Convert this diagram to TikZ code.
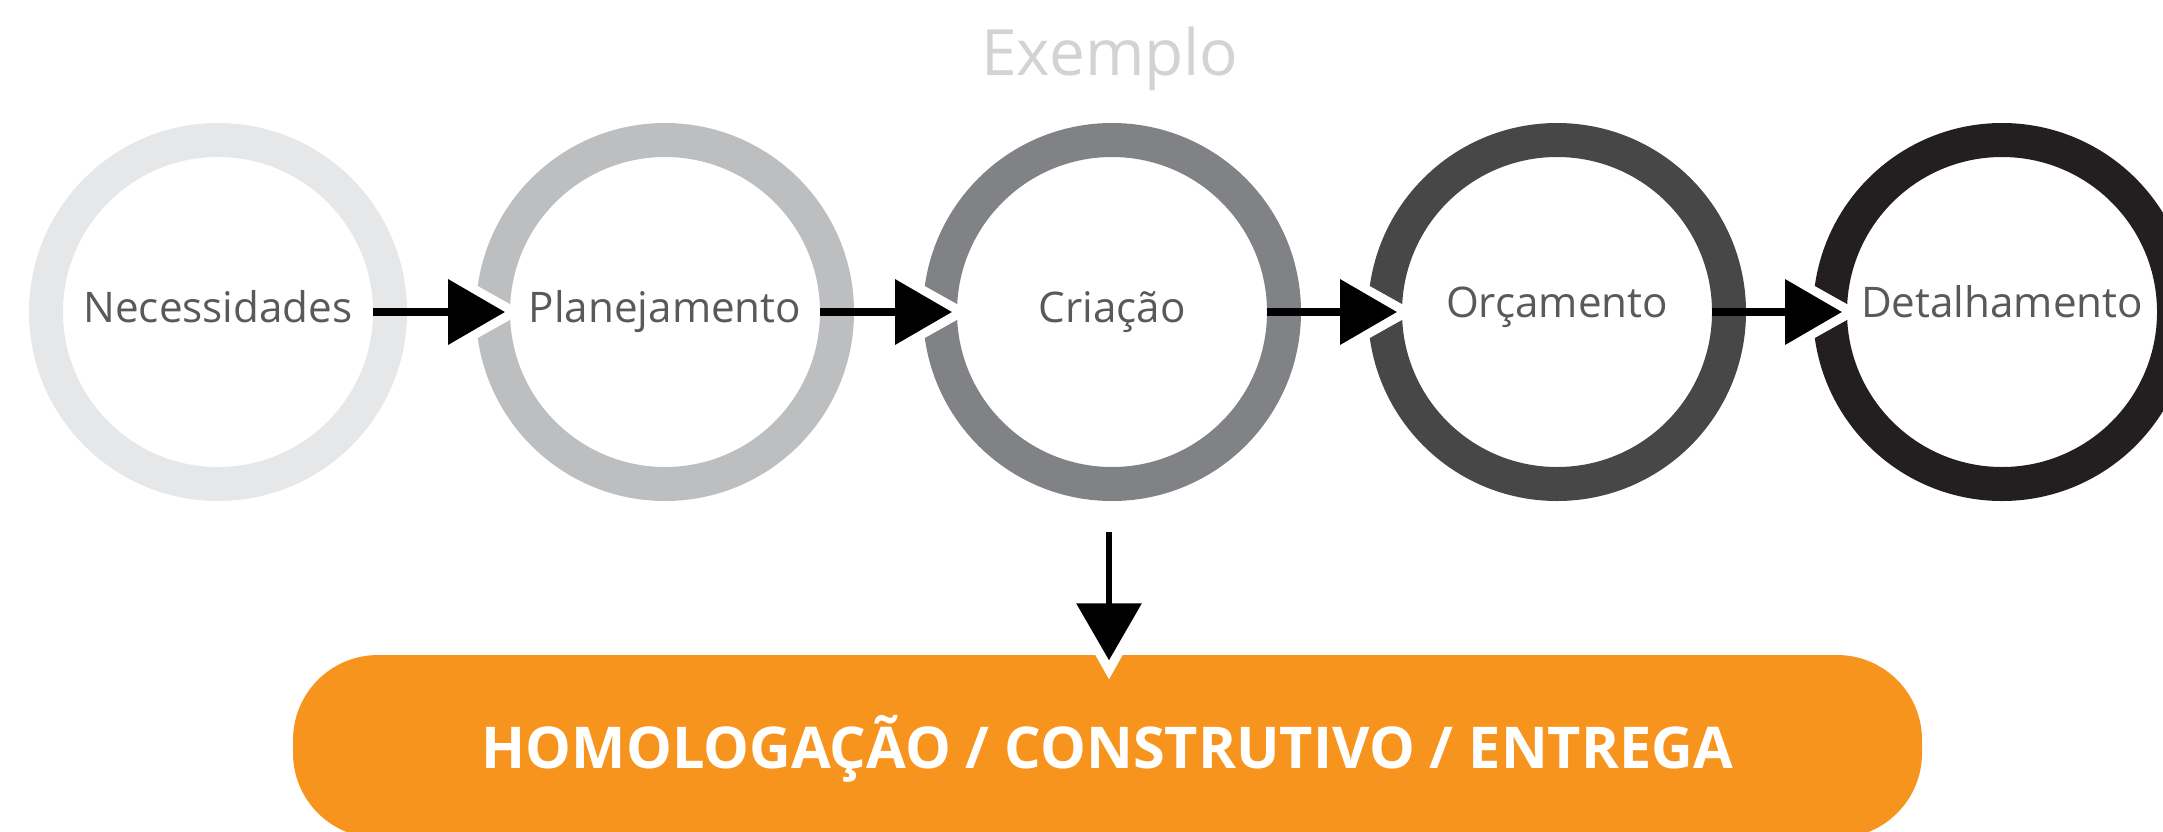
\documentclass[tikz,border=0pt]{standalone}
\usepackage{fontspec}
\setmainfont{Open Sans}
\usepackage{xcolor}
\usetikzlibrary{positioning, arrows.meta}

\definecolor{ringA}{HTML}{E6E7E8}
\definecolor{ringB}{HTML}{BCBEC0}
\definecolor{ringC}{HTML}{808285}
\definecolor{ringD}{HTML}{474747}
\definecolor{ringE}{HTML}{231F20}
\definecolor{labelgray}{HTML}{58595B}
\definecolor{titlegray}{HTML}{D1D3D4}
\definecolor{boxorange}{HTML}{F7941D}

\begin{document}
\begin{tikzpicture}[
  stage/.style={circle, draw=#1, line width=0.34cm, minimum size=3.44cm, inner sep=0pt,
    outer sep=-0.17cm, text=labelgray, text height=0.3cm, text depth=0.1cm,
    font=\fontsize{12.0}{14}\selectfont},
  flow/.style={draw=black, line width=0.075cm, -{Triangle[length=0.57cm,width=0.64cm]}, shorten >=0.05cm},
  halo/.style={draw=white, line width=0.01cm, -{Triangle[length=0.85cm,width=0.95cm]}, shorten >=-0.14cm},
  panel/.style={rectangle, rounded corners=0.85cm, fill=boxorange, minimum width=16.29cm,
    minimum height=1.83cm, text=white, text height=0.5cm, text depth=0.07cm,
    font=\bfseries\fontsize{16.4}{20}\selectfont},
]
  \useasboundingbox (0,0) rectangle (21.63,-8.31);

  \node[text=titlegray, font=\fontsize{18.2}{22}\selectfont, anchor=base] (titulo) at (11.1,-0.75) {Exemplo};

  \node[stage=ringA] (nec) at (2.18,-3.12) {Necessidades};
  \node[stage=ringB] (pla) at (6.65,-3.12) {Planejamento};
  \node[stage=ringC] (cri) at (11.12,-3.12) {Criação};
  \node[stage=ringD, text depth=0.2cm] (orc) at (15.57,-3.12) {Orçamento};
  \node[stage=ringE, text depth=0.2cm] (det) at (20.02,-3.12) {Detalhamento};

  \node[panel] (entrega) at (11.075,-7.465) {HOMOLOGAÇÃO / CONSTRUTIVO / ENTREGA};

  \coordinate (down) at ([xshift=-0.03cm]cri.south);

  % white cut round the heads
  \draw[halo] (nec) -- (pla);
  \draw[halo] (pla) -- (cri);
  \draw[halo] (cri) -- (orc);
  \draw[halo] (orc) -- (det);
  \draw[halo, shorten <=0.65cm, shorten >=-0.25cm] (down) -- (down |- entrega.north);

  \draw[flow] (nec) -- (pla);
  \draw[flow] (pla) -- (cri);
  \draw[flow] (cri) -- (orc);
  \draw[flow] (orc) -- (det);
  \draw[flow, line width=0.065cm, shorten <=0.65cm, shorten >=-0.06cm] (down) -- (down |- entrega.north);

\end{tikzpicture}
\end{document}
